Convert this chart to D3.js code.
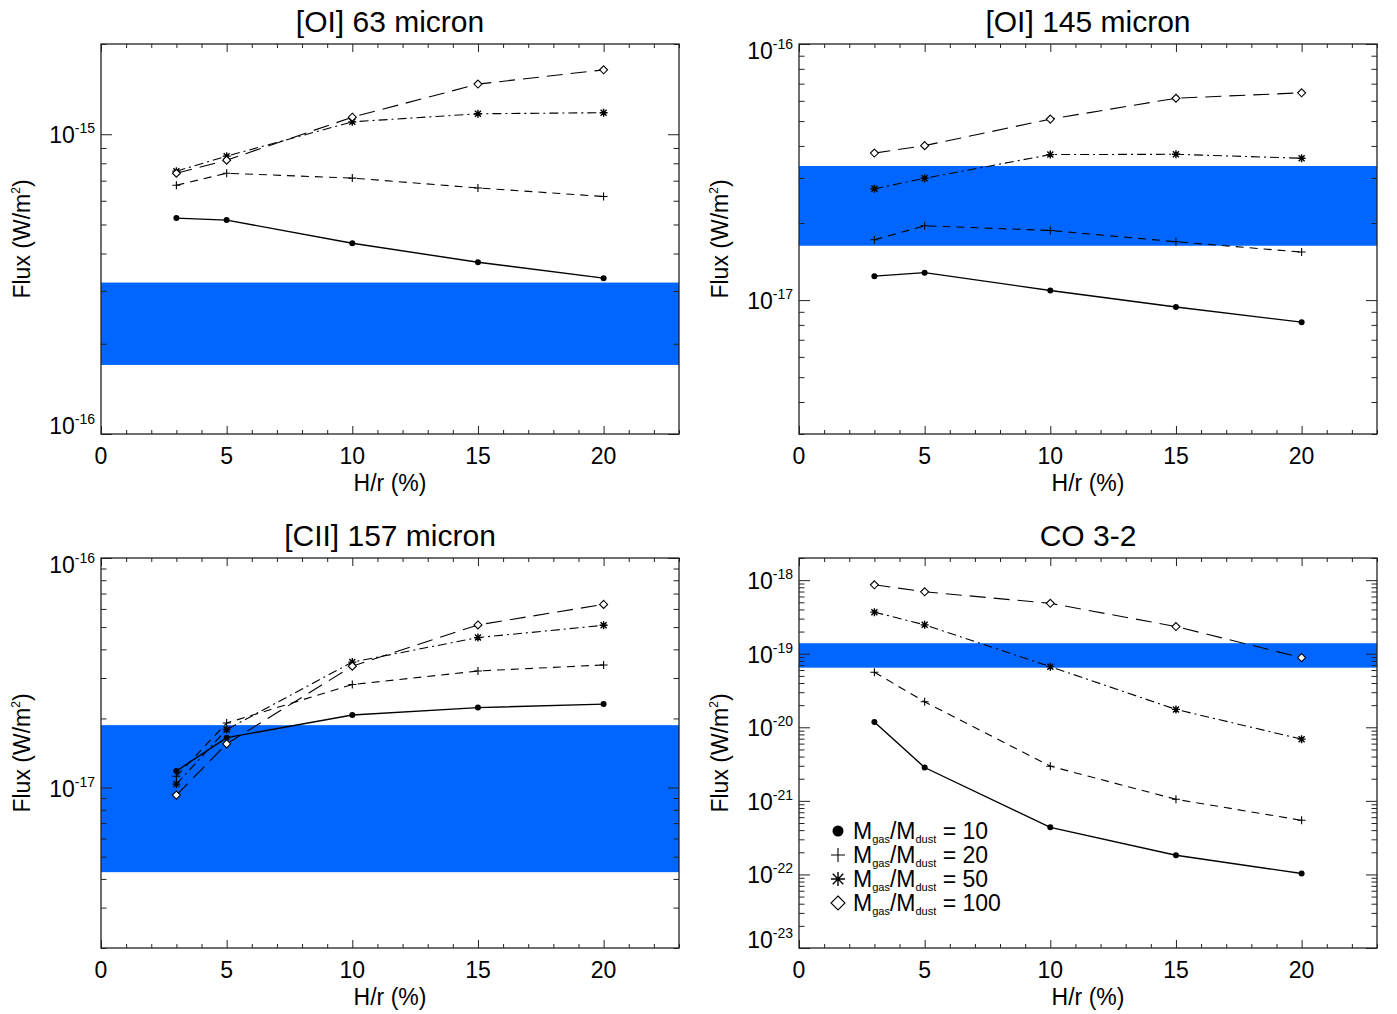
<!DOCTYPE html>
<html><head><meta charset="utf-8">
<script src="https://cdn.jsdelivr.net/npm/d3@7"></script>
<style>
body{margin:0;background:#fff}
text{font-family:"Liberation Sans",Arial,Helvetica,sans-serif;fill:#000}
</style>
</head><body>
<svg id="chart" width="1397" height="1014"></svg>
<script>
// ---------------- data ----------------
const hr = [3, 5, 10, 15, 20];                 // H/r (%)
const ratioLabels = ["10", "20", "50", "100"]; // Mgas/Mdust
const panelTitles = ["[OI] 63 micron", "[OI] 145 micron", "[CII] 157 micron", "CO 3-2"];
const xTicks = [0, 5, 10, 15, 20];
const xRange = [0, 23];

// [OI] 63 micron
const oi63_10  = [5.25e-16, 5.17e-16, 4.33e-16, 3.74e-16, 3.31e-16];
const oi63_20  = [6.76e-16, 7.41e-16, 7.14e-16, 6.62e-16, 6.20e-16];
const oi63_50  = [7.53e-16, 8.45e-16, 1.10e-15, 1.17e-15, 1.18e-15];
const oi63_100 = [7.41e-16, 8.19e-16, 1.14e-15, 1.47e-15, 1.64e-15];
const oi63_obs = [1.70e-16, 3.20e-16];
const oi63_range = [1e-16, 2e-15];

// [OI] 145 micron
const oi145_10  = [1.24e-17, 1.28e-17, 1.09e-17, 9.4e-18, 8.2e-18];
const oi145_20  = [1.72e-17, 1.95e-17, 1.87e-17, 1.69e-17, 1.54e-17];
const oi145_50  = [2.72e-17, 2.99e-17, 3.70e-17, 3.71e-17, 3.58e-17];
const oi145_100 = [3.75e-17, 4.01e-17, 5.09e-17, 6.14e-17, 6.45e-17];
const oi145_obs = [1.63e-17, 3.34e-17];
const oi145_range = [3e-18, 1e-16];

// [CII] 157 micron
const cii_10  = [1.18e-17, 1.65e-17, 2.07e-17, 2.23e-17, 2.31e-17];
const cii_20  = [1.12e-17, 1.91e-17, 2.81e-17, 3.22e-17, 3.42e-17];
const cii_50  = [1.035e-17, 1.79e-17, 3.52e-17, 4.50e-17, 5.09e-17];
const cii_100 = [9.27e-18, 1.55e-17, 3.38e-17, 5.11e-17, 6.28e-17];
const cii_obs = [4.28e-18, 1.87e-17];
const cii_range = [2e-18, 1e-16];

// CO 3-2
const co_10  = [1.18e-20, 2.84e-21, 4.37e-22, 1.82e-22, 1.03e-22];
const co_20  = [5.6e-20, 2.22e-20, 2.96e-21, 1.05e-21, 5.44e-22];
const co_50  = [3.67e-19, 2.47e-19, 6.67e-20, 1.75e-20, 6.9e-21];
const co_100 = [8.65e-19, 6.95e-19, 4.84e-19, 2.34e-19, 8.85e-20];
const co_obs = [6.46e-20, 1.39e-19];
const co_range = [1e-23, 2e-18];

const panelSeries = [
  [oi63_10, oi63_20, oi63_50, oi63_100],
  [oi145_10, oi145_20, oi145_50, oi145_100],
  [cii_10, cii_20, cii_50, cii_100],
  [co_10, co_20, co_50, co_100]
];
const panelObs = [oi63_obs, oi145_obs, cii_obs, co_obs];
const panelRanges = [oi63_range, oi145_range, cii_range, co_range];

// ---------------- styles ----------------
const dashes = [null, "8,6", "9,4,2,4", "16,8"];
const markers = ["circle", "plus", "asterisk", "diamond"];
const bandColor = "#0066ff";

const svg = d3.select("#chart");
const W = 578, H = 390;
const boxes = [{x:101, y:44}, {x:799, y:44}, {x:101, y:558}, {x:799, y:558}];

function markerPath(type, s) {
  if (type === "plus") return `M${-s},0H${s}M0,${-s}V${s}`;
  if (type === "asterisk") {
    const d = s * 0.75;
    return `M${-s},0H${s}M0,${-s}V${s}M${-d},${-d}L${d},${d}M${-d},${d}L${d},${-d}`;
  }
  if (type === "diamond") return `M0,${-s}L${s},0L0,${s}L${-s},0Z`;
  return null;
}

function drawMarker(g, type, x, y, s, r) {
  if (type === "circle") {
    g.append("circle").attr("cx", x).attr("cy", y).attr("r", r).attr("fill", "#000");
  } else {
    g.append("path").attr("transform", `translate(${x},${y})`)
      .attr("d", markerPath(type, s))
      .attr("fill", type === "diamond" ? "#fff" : "none")
      .attr("stroke", "#000").attr("stroke-width", type === "asterisk" ? 1.4 : 1.1);
  }
}

function logTicks(domain) {
  const lo = Math.floor(Math.log10(domain[0]) - 1e-9), hi = Math.ceil(Math.log10(domain[1]) + 1e-9);
  const major = [], minor = [];
  for (let e = lo; e <= hi; e++) {
    const v = Math.pow(10, e);
    if (v >= domain[0] * 0.999 && v <= domain[1] * 1.001) major.push(v);
    for (let k = 2; k <= 9; k++) {
      const m = k * v;
      if (m >= domain[0] * 0.999 && m <= domain[1] * 1.001) minor.push(m);
    }
  }
  return {major, minor};
}

panelTitles.forEach((title, p) => {
  const b = boxes[p];
  const g = svg.append("g").attr("transform", `translate(${b.x},${b.y})`);
  const x = d3.scaleLinear().domain(xRange).range([0, W]);
  const y = d3.scaleLog().domain(panelRanges[p]).range([H, 0]);

  const cid = "clip" + p;
  g.append("clipPath").attr("id", cid).append("rect").attr("width", W).attr("height", H);
  const plot = g.append("g").attr("clip-path", `url(#${cid})`);

  // observed band
  const obs = panelObs[p];
  plot.append("rect").attr("x", 0).attr("width", W)
    .attr("y", y(obs[1])).attr("height", y(obs[0]) - y(obs[1]))
    .attr("fill", bandColor);

  // series
  panelSeries[p].forEach((vals, si) => {
    const pts = hr.map((h, i) => [h, vals[i]]);
    const line = d3.line().x(d => x(d[0])).y(d => y(d[1]));
    plot.append("path").attr("d", line(pts)).attr("fill", "none")
      .attr("stroke", "#000").attr("stroke-width", si === 0 ? 1.4 : 1.1)
      .attr("stroke-dasharray", dashes[si]);
    pts.forEach(d => drawMarker(plot, markers[si], x(d[0]), y(d[1]), 4, 3));
  });

  // axes ticks (inward, all four sides)
  const xMinor = d3.range(xRange[0], xRange[1] + 0.001, 1).filter(v => !xTicks.includes(v));
  const yt = logTicks(panelRanges[p]);
  const axCol = "#222";

  const addAxis = (axis, tr) => {
    const a = g.append("g").attr("transform", tr).call(axis);
    a.selectAll("path.domain").remove();
    a.selectAll("line").attr("stroke", axCol);
    a.selectAll("text").remove();
    return a;
  };
  addAxis(d3.axisBottom(x).tickValues(xTicks).tickSize(-8), `translate(0,${H})`);
  addAxis(d3.axisBottom(x).tickValues(xMinor).tickSize(-4), `translate(0,${H})`);
  addAxis(d3.axisTop(x).tickValues(xTicks).tickSize(-8), `translate(0,0)`);
  addAxis(d3.axisTop(x).tickValues(xMinor).tickSize(-4), `translate(0,0)`);
  addAxis(d3.axisLeft(y).tickValues(yt.major).tickSize(-11), `translate(0,0)`);
  addAxis(d3.axisLeft(y).tickValues(yt.minor).tickSize(-5.5), `translate(0,0)`);
  addAxis(d3.axisRight(y).tickValues(yt.major).tickSize(-11), `translate(${W},0)`);
  addAxis(d3.axisRight(y).tickValues(yt.minor).tickSize(-5.5), `translate(${W},0)`);

  g.append("rect").attr("width", W).attr("height", H).attr("fill", "none")
    .attr("stroke", axCol).attr("stroke-width", 1.3);

  // x tick labels
  xTicks.forEach(v => {
    g.append("text").attr("x", x(v)).attr("y", H + 30).attr("text-anchor", "middle")
      .attr("font-size", 23).text(v);
  });
  // y tick labels
  yt.major.forEach(v => {
    const ty = y(v);
    let base = ty + 9;
    if (Math.abs(ty - H) < 1) base = ty;
    else if (Math.abs(ty) < 1) base = ty + 15;
    const e = Math.round(Math.log10(v));
    const t = g.append("text").attr("x", -6).attr("y", base).attr("text-anchor", "end")
      .attr("font-size", 23);
    t.append("tspan").text("10");
    t.append("tspan").attr("font-size", 14).attr("dy", -10).text(String(e));
  });

  // axis titles
  g.append("text").attr("x", W / 2).attr("y", H + 57).attr("text-anchor", "middle")
    .attr("font-size", 23).text("H/r (%)");
  const yl = g.append("text").attr("transform", `translate(-71,${H / 2}) rotate(-90)`)
    .attr("text-anchor", "middle").attr("font-size", 23);
  yl.append("tspan").text("Flux (W/m");
  yl.append("tspan").attr("font-size", 12).attr("dy", -10).text("2");
  yl.append("tspan").attr("dy", 10).text(")");

  // title
  g.append("text").attr("x", W / 2).attr("y", -12).attr("text-anchor", "middle")
    .attr("font-size", 30).text(title);
});

// legend (in CO panel)
const lg = svg.append("g").attr("transform", "translate(838,839)");
ratioLabels.forEach((lab, i) => {
  const yy = i * 24;
  drawMarker(lg, markers[i], 0, yy - 8, 7, 5.5);
  const t = lg.append("text").attr("x", 15).attr("y", yy).attr("font-size", 23);
  t.append("tspan").text("M");
  t.append("tspan").attr("font-size", 11).attr("dy", 4).text("gas");
  t.append("tspan").attr("dy", -4).text("/M");
  t.append("tspan").attr("font-size", 11).attr("dy", 4).text("dust");
  t.append("tspan").attr("dy", -4).text(" = " + lab);
});
</script>
</body></html>
